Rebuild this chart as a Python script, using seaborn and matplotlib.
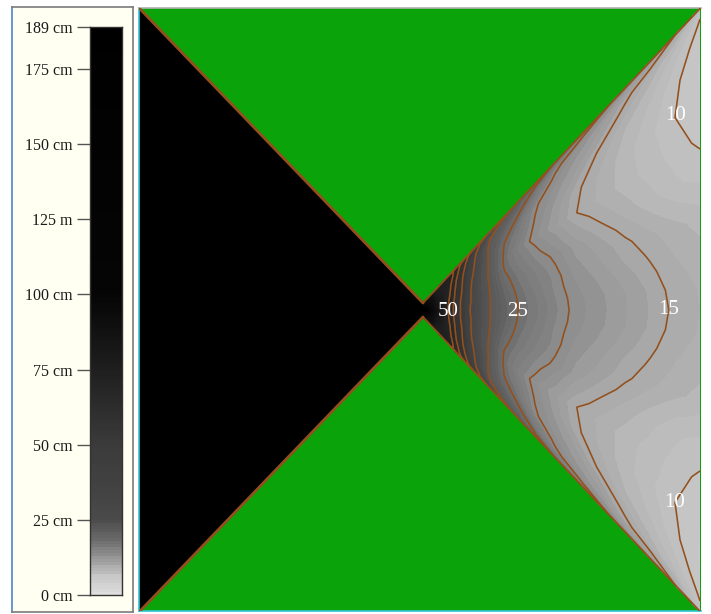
import numpy as np
import matplotlib
matplotlib.use("Agg")
import matplotlib.pyplot as plt
import seaborn as sns
from matplotlib.colors import LinearSegmentedColormap, Normalize

# ---------------- data ----------------
# legend (colour scale) ticks
legend_ticks = [189, 175, 150, 125, 100, 75, 50, 25, 0]
legend_labels = ["189 cm", "175 cm", "150 cm", "125 m", "100 cm",
                 "75 cm", "50 cm", "25 cm", "0 cm"]
depth_max = 189

# left (deep) sector: uniform depth
left_depth = 189

# right sector: depth field sampled on a fan grid
# columns = horizontal position, rows = relative position between the two
# sector edges (-1 = upper edge, 0 = centre line, +1 = lower edge)
x_cols = [423, 436, 448, 455, 462, 470, 480, 490, 505, 518, 535, 555, 575, 600, 625, 650, 675, 700]
v_rows = [-1.00, -0.98, -0.95, -0.90, -0.82, -0.70, -0.57, -0.51, -0.45, -0.375, -0.30,
          -0.225, -0.15, -0.075, 0.00,
          0.075, 0.15, 0.225, 0.30, 0.375, 0.45, 0.51, 0.57, 0.70, 0.82, 0.90, 0.95, 0.98, 1.00]
depth = [
    [75, 57, 54, 50, 46, 41, 37, 34, 31, 29, 27, 24.5, 22.5, 20.5, 19, 17, 15, 11],
    [75, 56, 53, 48, 44.5, 39, 35, 32.5, 29.3, 27.3, 25.2, 22.8, 20.6, 18.8, 17.2, 15.7, 13.5, 10.2],
    [76, 56, 55, 48.5, 43.5, 38.5, 34.5, 31, 28.5, 27, 24, 20.5, 19, 17.5, 15.5, 13.7, 12, 9.8],
    [78, 57, 55, 48, 42.5, 37.5, 33.5, 30, 27.5, 25.5, 22.5, 19.5, 18, 16.5, 14.3, 12.7, 11, 9.3],
    [80, 58, 54, 47.5, 41.5, 37, 33, 29.3, 26.2, 24, 20.3, 18.5, 17, 14.7, 13, 11.8, 10.3, 8.8],
    [85, 60, 53, 46, 40.5, 36.5, 32.8, 29.3, 24.7, 22.8, 19.8, 17.6, 15.4, 13.8, 12.4, 11.2, 10, 9],
    [90, 62, 52.5, 45.5, 40.2, 36, 32.3, 29.5, 24.3, 21.7, 19.2, 17.2, 15.1, 13.7, 12.5, 11.5, 10.6, 9.7],
    [92, 63, 52.2, 45.2, 40.1, 35.7, 32.1, 29.5, 24.4, 22.2, 20, 18, 15.9, 14.3, 13, 11.9, 10.9, 10.2],
    [95, 64, 52, 45, 40, 35.5, 32, 29.5, 24.6, 22.6, 20.5, 18.6, 16.6, 15, 13.5, 12.3, 11.2, 10.6],
    [97, 65, 51.5, 44.8, 39.8, 35.4, 32.1, 29.6, 25.3, 23.2, 21.2, 19.6, 17.6, 15.9, 14.5, 13.2, 12.2, 11.6],
    [100, 66, 51, 44.5, 39.5, 35.3, 32.2, 29.8, 25.8, 23.8, 21.9, 20.1, 18.1, 16.7, 15.3, 14.2, 13.3, 12.6],
    [102, 67, 50.8, 44, 39.2, 35.3, 32.3, 29.9, 26.4, 24.2, 22.3, 20.6, 18.6, 17.2, 15.8, 14.8, 13.8, 13.1],
    [105, 68, 50.5, 43.5, 39, 35.3, 32.4, 30, 26.9, 24.6, 22.8, 20.7, 19.1, 17.8, 16.5, 15.3, 14.2, 13.6],
    [108, 69, 50.2, 43.5, 39, 35.1, 32.5, 30, 27.2, 24.9, 23.1, 21, 19.4, 18.2, 17, 15.8, 14.5, 13.9],
    [110, 70, 50, 43.5, 39, 35, 32.5, 30, 27.3, 25, 23.3, 21.2, 19.5, 18.3, 17.1, 15.9, 14.7, 14],
    [108, 69, 50.2, 43.5, 39, 35.1, 32.5, 30, 27.2, 24.9, 23.1, 21, 19.4, 18.2, 17, 15.8, 14.5, 13.9],
    [105, 68, 50.5, 43.5, 39, 35.3, 32.4, 30, 26.9, 24.6, 22.8, 20.7, 19.1, 17.8, 16.5, 15.3, 14.2, 13.6],
    [102, 67, 50.8, 44, 39.2, 35.3, 32.3, 29.9, 26.4, 24.2, 22.3, 20.6, 18.6, 17.2, 15.8, 14.8, 13.8, 13.1],
    [100, 66, 51, 44.5, 39.5, 35.3, 32.2, 29.8, 25.8, 23.8, 21.9, 20.1, 18.1, 16.7, 15.3, 14.2, 13.3, 12.6],
    [97, 65, 51.5, 44.8, 39.8, 35.4, 32.1, 29.6, 25.3, 23.2, 21.2, 19.6, 17.6, 15.9, 14.5, 13.2, 12.2, 11.6],
    [95, 64, 52, 45, 40, 35.5, 32, 29.5, 24.6, 22.6, 20.5, 18.6, 16.6, 15, 13.5, 12.3, 11.2, 10.6],
    [92, 63, 52.2, 45.2, 40.1, 35.7, 32.1, 29.5, 24.4, 22.2, 20, 18, 15.9, 14.3, 13, 11.9, 10.9, 10.2],
    [90, 62, 52.5, 45.5, 40.2, 36, 32.3, 29.5, 24.3, 21.7, 19.2, 17.2, 15.1, 13.7, 12.5, 11.5, 10.6, 9.7],
    [85, 60, 53, 46, 40.5, 36.5, 32.8, 29.3, 24.7, 22.8, 19.8, 17.6, 15.4, 13.8, 12.4, 11.2, 10, 9],
    [80, 58, 54, 47.5, 41.5, 37, 33, 29.3, 26.2, 24, 20.3, 18.5, 17, 14.7, 13, 11.8, 10.3, 8.8],
    [78, 57, 55, 48, 42.5, 37.5, 33.5, 30, 27.5, 25.5, 22.5, 19.5, 18, 16.5, 14.3, 12.7, 11, 9.3],
    [76, 56, 55, 48.5, 43.5, 38.5, 34.5, 31, 28.5, 27, 24, 20.5, 19, 17.5, 15.5, 13.7, 12, 9.8],
    [75, 56, 53, 48, 44.5, 39, 35, 32.5, 29.3, 27.3, 25.2, 22.8, 20.6, 18.8, 17.2, 15.7, 13.5, 10.2],
    [75, 57, 54, 50, 46, 41, 37, 34, 31, 29, 27, 24.5, 22.5, 20.5, 19, 17, 15, 11],
]
line_levels = [10, 15, 20, 25, 30, 35, 40, 45, 50]
label_positions = [(448, 312), (520, 312), (668, 310), (673, 115), (673, 503)]

# ---------------- geometry of the domain (model units) ----------------
X_MIN, X_MAX, Y_TOP, Y_BOT = 139, 701, 8, 611
APEX_X, MID_Y, GAP = 423, 310, 7
SLOPE_R, SLOPE_L = 1.063, 1.039

# ---------------- style ----------------
sns.set_style("white")
plt.rcParams["font.family"] = ["Liberation Serif", "DejaVu Serif"]

GREEN = "#0aa30a"
BROWN = "#93501c"
field_cmap = LinearSegmentedColormap.from_list("depth", [
    (0 / 189, (0.88,) * 3), (10 / 189, (0.76,) * 3), (15 / 189, (0.655,) * 3),
    (20 / 189, (0.545,) * 3), (25 / 189, (0.43,) * 3), (30 / 189, (0.335,) * 3),
    (35 / 189, (0.27,) * 3), (40 / 189, (0.22,) * 3), (50 / 189, (0.15,) * 3),
    (70 / 189, (0.06,) * 3), (100 / 189, (0.0,) * 3), (1.0, (0.0,) * 3)])
legend_cmap = LinearSegmentedColormap.from_list("legend", [
    (0 / 189, (0.87,) * 3), (6 / 189, (0.78,) * 3), (12.5 / 189, (0.57,) * 3),
    (18 / 189, (0.42,) * 3), (25 / 189, (0.29,) * 3), (35 / 189, (0.26,) * 3),
    (50 / 189, (0.23,) * 3), (75 / 189, (0.12,) * 3), (100 / 189, (0.02,) * 3),
    (1.0, (0.0,) * 3)])
norm = Normalize(vmin=0, vmax=depth_max)

W, H = 711, 614
fig = plt.figure(figsize=(W / 100, H / 100), dpi=100)
fig.patch.set_facecolor("white")

# ---------------- legend panel ----------------
axL = fig.add_axes([12 / W, 1 - 612 / H, 121 / W, 605 / H])
axL.set_facecolor("#fffff2")
axL.set_xticks([])
axL.set_yticks([])
for name, sp in axL.spines.items():
    sp.set_visible(True)
    sp.set_linewidth(1.2)
    sp.set_color("#4d86c6" if name == "left" else "#7a7a7a")

axC = fig.add_axes([90 / W, 1 - 595 / H, 32 / W, 568 / H])
strip = np.arange(depth_max - 0.5, 0, -1.0)[:, None]
sns.heatmap(strip, ax=axC, cmap=legend_cmap, vmin=0, vmax=depth_max, cbar=False,
            xticklabels=False, yticklabels=False)
axC.set_ylim(depth_max, 0)
axC.set_yticks([depth_max - t for t in legend_ticks])
axC.set_yticklabels(legend_labels)
axC.tick_params(axis="y", left=True, length=9.5, width=1.0, color="#555555",
                pad=3, labelsize=11.5, labelcolor="#1a1a1a", rotation=0)
for sp in axC.spines.values():
    sp.set_visible(True)
    sp.set_color("#333333")
    sp.set_linewidth(1.0)

# ---------------- main panel ----------------
ax = fig.add_axes([X_MIN / W, 1 - Y_BOT / H, (X_MAX - X_MIN) / W, (Y_BOT - Y_TOP) / H])
ax.set_facecolor(GREEN)
ax.set_xlim(X_MIN, X_MAX)
ax.set_ylim(Y_BOT, Y_TOP)
ax.set_xticks([])
ax.set_yticks([])
for name, sp in ax.spines.items():
    sp.set_linewidth(1.2)
    if name in ("left", "bottom"):
        sp.set_color("#2ec6d4")
    elif name == "top":
        sp.set_color("#b0b0b0")
    else:
        sp.set_visible(False)

# left sector (fan quad)
xl = np.array([X_MIN, APEX_X], dtype=float)
half_l = GAP + (APEX_X - xl) * SLOPE_L
XL = np.vstack([xl, xl])
YL = np.vstack([MID_Y - half_l, MID_Y + half_l])
ax.pcolormesh(XL, YL, np.array([[left_depth]]), cmap=field_cmap, norm=norm,
              shading="flat", zorder=1)

# right sector (curvilinear fan grid)
xc = np.array(x_cols, dtype=float)
vr = np.array(v_rows, dtype=float)
Z = np.array(depth, dtype=float)
half_r = GAP + (xc - APEX_X) * SLOPE_R
X = np.broadcast_to(xc, (len(vr), len(xc)))
Y = MID_Y + vr[:, None] * half_r[None, :]

ax.contourf(X, Y, Z, levels=np.arange(0, depth_max + 2, 1), cmap=field_cmap,
            norm=norm, zorder=1)
cs = ax.contour(X, Y, Z, levels=line_levels, colors=BROWN, linewidths=1.15, zorder=2)

# sector boundaries
ax.plot(XL[0], YL[0], color=BROWN, lw=2.0, zorder=3)
ax.plot(XL[1], YL[1], color=BROWN, lw=2.0, zorder=3)
ax.plot(X[0], Y[0], color=BROWN, lw=1.3, zorder=3)
ax.plot(X[-1], Y[-1], color=BROWN, lw=1.3, zorder=3)

texts = ax.clabel(cs, manual=label_positions, inline=False, fmt="%d",
                  colors="white", fontsize=15)
for t in texts:
    t.set_rotation(0)
    t.set_fontfamily(["Liberation Serif", "DejaVu Serif"])
    t.set_zorder(5)

fig.savefig("out.png", dpi=100)
